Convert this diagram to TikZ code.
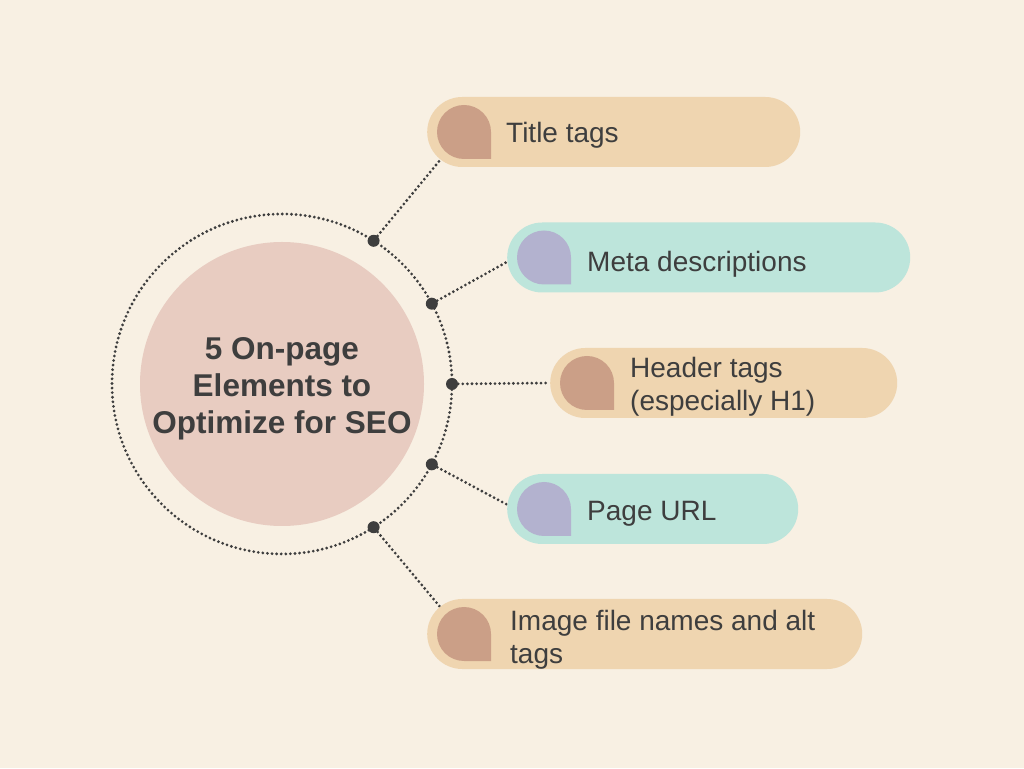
\documentclass[tikz,border=0pt]{standalone}
\usepackage{fontspec}
\setmainfont{Liberation Sans}
\usetikzlibrary{positioning,calc,backgrounds}

\definecolor{paper}{HTML}{F8F0E3}
\definecolor{blush}{HTML}{E8CCC1}
\definecolor{sand}{HTML}{EFD5B0}
\definecolor{clay}{HTML}{CB9F87}
\definecolor{mint}{HTML}{BDE5DB}
\definecolor{lilac}{HTML}{B3B2CF}
\definecolor{ink}{HTML}{3E3E3E}

\begin{document}
\begin{tikzpicture}[x=1pt, y=1pt,
  pill/.style={rectangle, rounded corners=35pt, minimum height=70pt, inner sep=0pt, anchor=west},
  itemtext/.style={anchor=west, align=left, text=ink, inner sep=0pt, font=\fontsize{28}{33}\selectfont},
  dotline/.style={ink, line width=3.1pt, line cap=round, dash pattern=on 0pt off 4.6pt},
  knob/.style={circle, fill=ink, inner sep=0pt, minimum size=12pt}]
  \useasboundingbox (0,0) rectangle (1024,768);

  % hub in the middle
  \node[circle, fill=blush, minimum size=284pt, text=ink] (hub) at (282,384) {};
  \node[align=center, text=ink, font=\bfseries\fontsize{31.5}{37}\selectfont] (hubtxt)
        at ($(hub.center)+(0,-5)$) {5 On-page\\Elements to\\Optimize for SEO};
  \draw[dotline] (hub.center) circle (170);

  \node[knob] (k1) at ($(hub.center)+(57.4:170)$) {};
  \node[knob] (k2) at ($(hub.center)+(28.2:170)$) {};
  \node[knob] (k3) at ($(hub.center)+(0:170)$) {};
  \node[knob] (k4) at ($(hub.center)+(-28.2:170)$) {};
  \node[knob] (k5) at ($(hub.center)+(-57.4:170)$) {};

  % the five items
  \node[pill, fill=sand, minimum width=373pt] (title) at (427,636) {};
  \node[pill, fill=mint, minimum width=403pt] (meta) at (507,510.5) {};
  \node[pill, fill=sand, minimum width=347pt] (header) at (550,385) {};
  \node[pill, fill=mint, minimum width=291pt] (url) at (507,259) {};
  \node[pill, fill=sand, minimum width=435pt] (image) at (427,134) {};

  \foreach \p/\c in {title/clay, meta/lilac, header/clay, url/lilac, image/clay}
    \fill[\c] ($(\p.west)+(37,0)$) circle (27) rectangle ++(27,-27);

  \node[itemtext] (titletxt) at ($(title.west)+(79,-3)$) {Title tags};
  \node[itemtext] (metatxt) at ($(meta.west)+(80,-7)$) {Meta descriptions};
  \node[itemtext] (headertxt) at ($(header.west)+(80,-4)$) {Header tags\\(especially H1)};
  \node[itemtext] (urltxt) at ($(url.west)+(80,-5)$) {Page URL};
  \node[itemtext] (imagetxt) at ($(image.west)+(83,-6)$) {Image file names and alt\\tags};

  \begin{scope}[on background layer]
    \fill[paper] (0,0) rectangle (1024,768);
    \draw[dotline] (k1) -- ($(title.west)+(35,0)+(232:35)$);
    \draw[dotline] (k2) -- ($(meta.west)+(35,0)+(187:35)$);
    \draw[dotline] (k3) -- (header.west);
    \draw[dotline] (k4) -- ($(url.west)+(35,0)+(173:35)$);
    \draw[dotline] (k5) -- ($(image.west)+(35,0)+(129:35)$);
  \end{scope}
\end{tikzpicture}
\end{document}
